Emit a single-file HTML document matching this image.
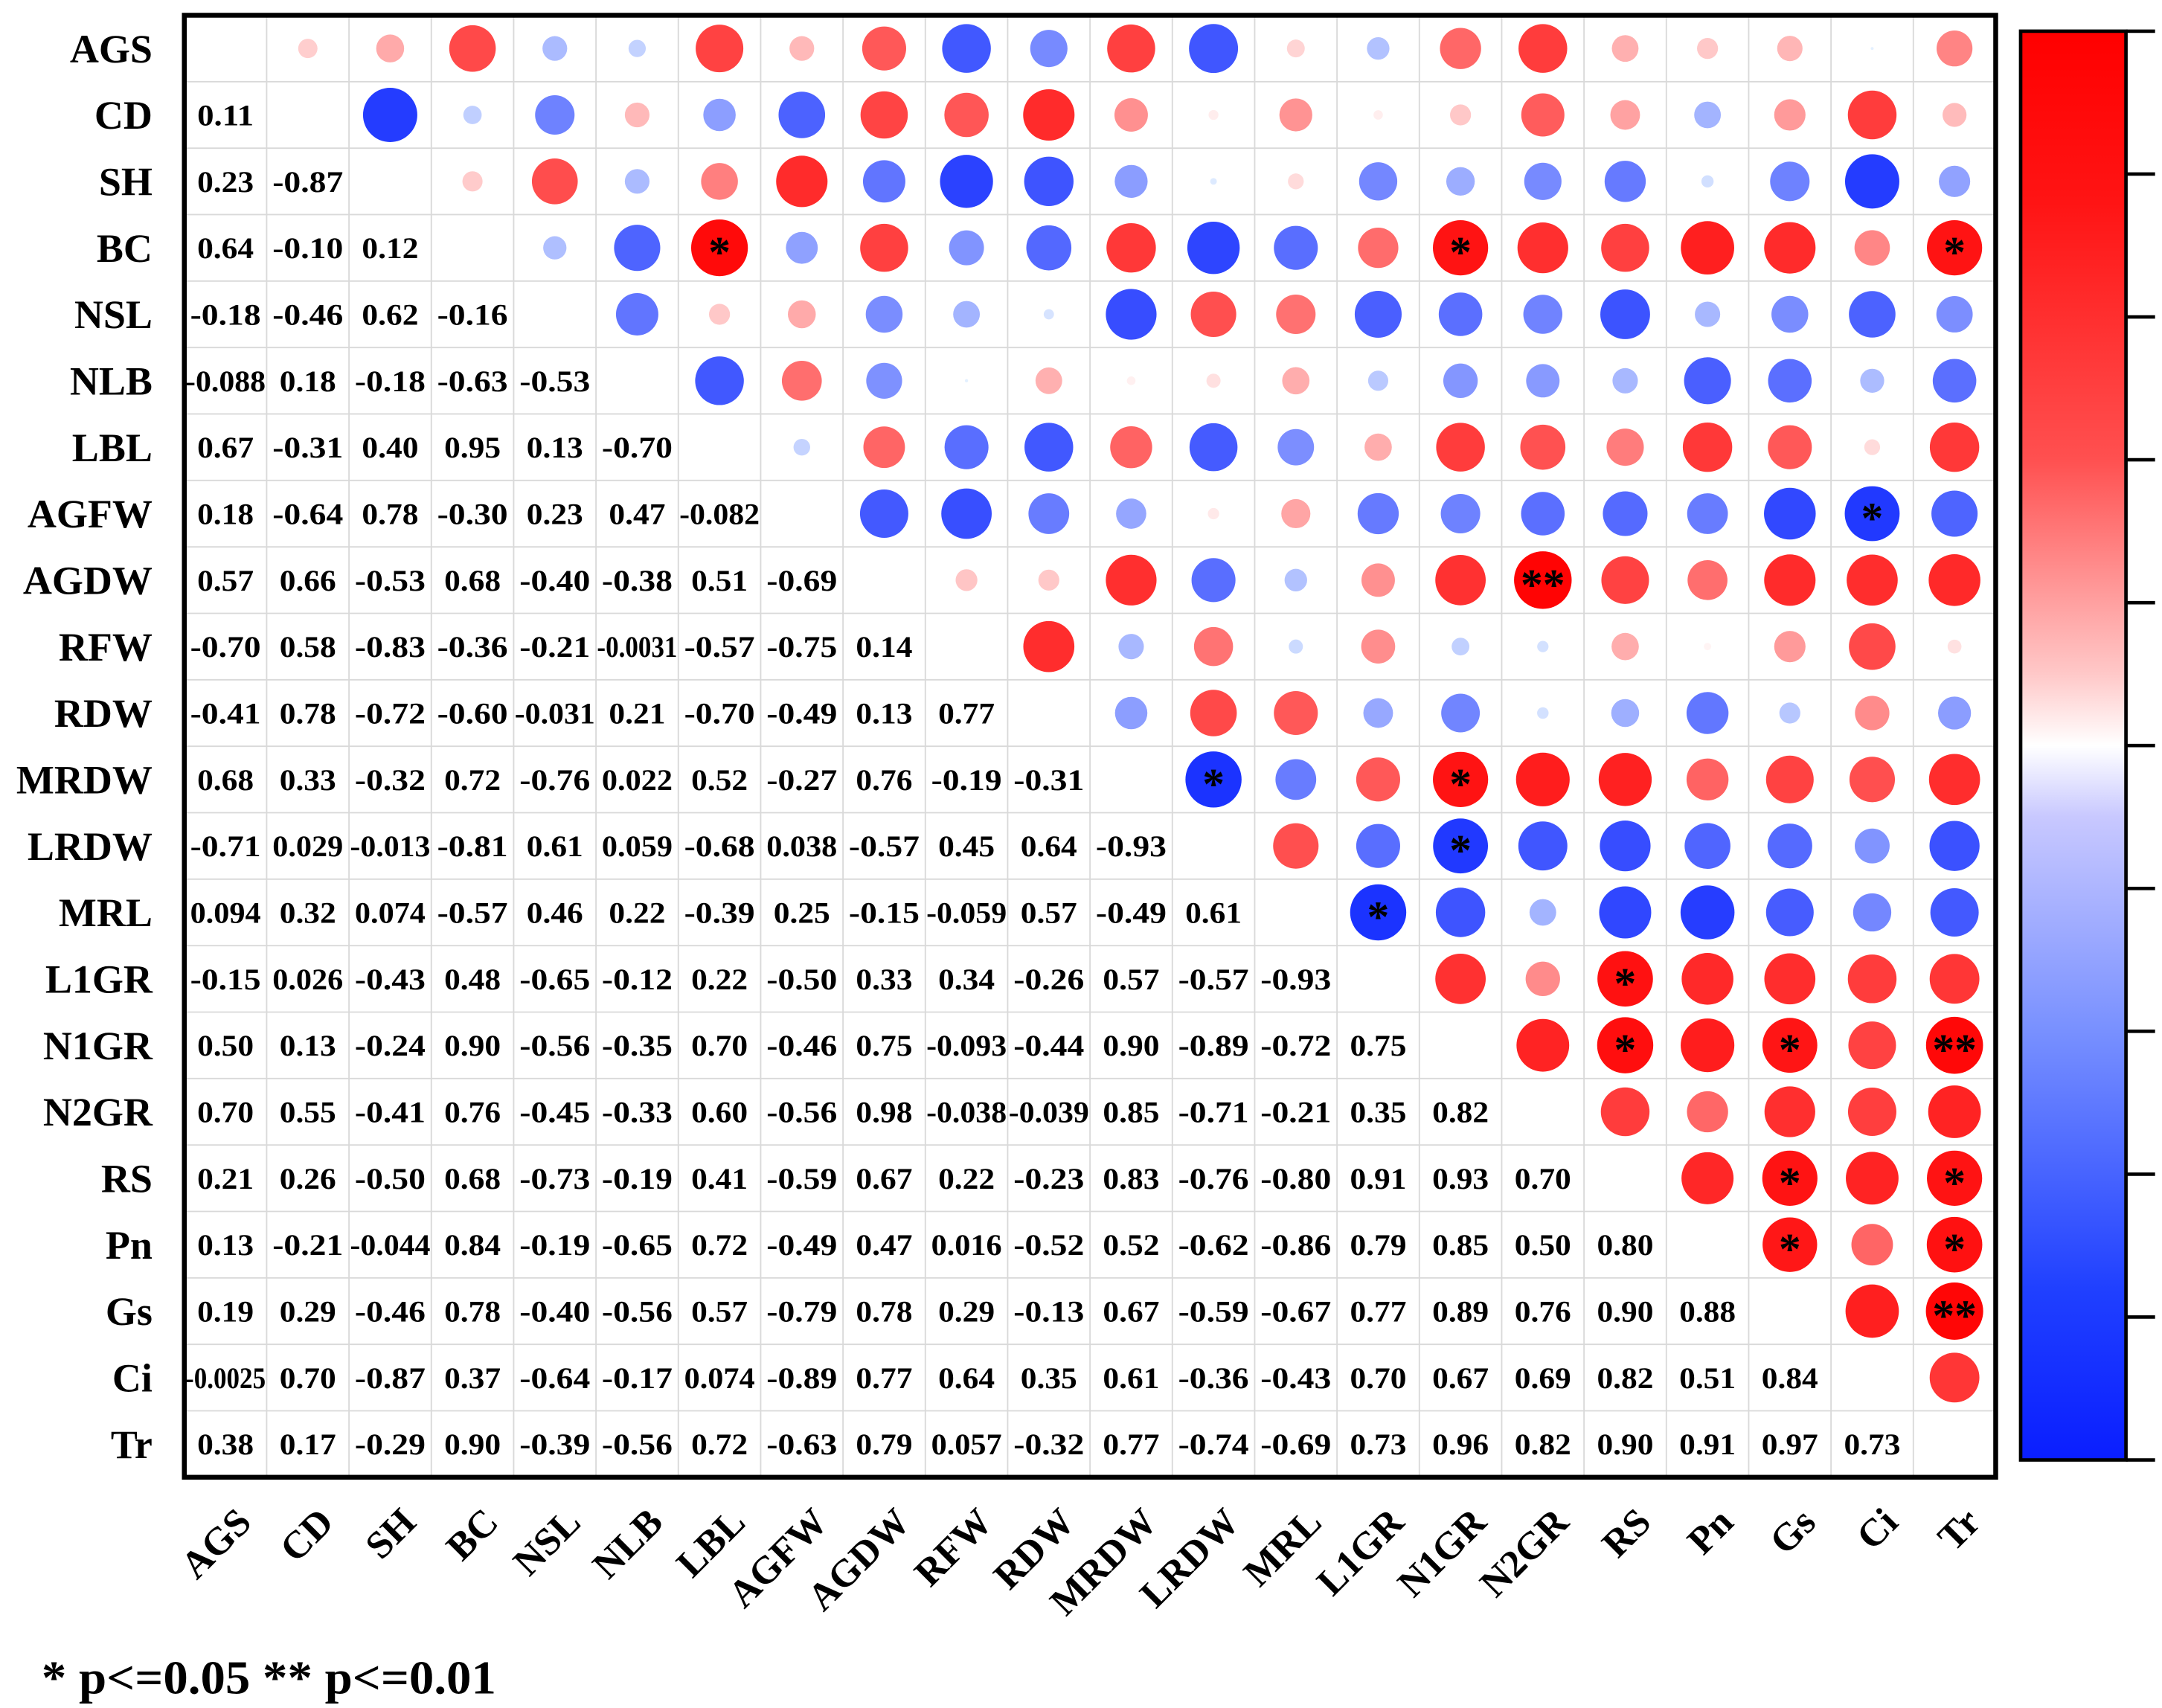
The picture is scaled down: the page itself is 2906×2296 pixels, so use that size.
<!DOCTYPE html>
<html><head><meta charset="utf-8"><style>
html,body{margin:0;padding:0;background:#fff;}
svg{display:block;}
text{font-family:"Liberation Serif","Times New Roman",Times,serif;font-weight:bold;fill:#000;}
</style></head><body>
<svg id="chart" width="2906" height="2296" viewBox="0 0 1560 1232.5" preserveAspectRatio="none" xmlns="http://www.w3.org/2000/svg">
<defs>
<linearGradient id="cbgrad" x1="0" y1="0" x2="0" y2="1">
<stop offset="0" stop-color="#ff0000"/>
<stop offset="0.12" stop-color="#ff1414"/>
<stop offset="0.3" stop-color="#ff5050"/>
<stop offset="0.45" stop-color="#ffc8c8"/>
<stop offset="0.5" stop-color="#ffffff"/>
<stop offset="0.55" stop-color="#c8c8ff"/>
<stop offset="0.7" stop-color="#7890ff"/>
<stop offset="0.88" stop-color="#2040ff"/>
<stop offset="1" stop-color="#0a1eff"/>
</linearGradient>
</defs>
<g id="grid"></g>
<g id="cells"></g>
<rect x="133" y="11" width="1307" height="1055" fill="none" stroke="#000" stroke-width="3.5"/>
<g id="ylabels"></g>
<g id="xlabels"></g>
<rect x="1458" y="22.5" width="76" height="1031" fill="url(#cbgrad)" stroke="#000" stroke-width="2.5"/>
<g id="cbticks"></g>
<text x="30" y="1222" font-size="34" textLength="328" lengthAdjust="spacingAndGlyphs">* p&lt;=0.05  ** p&lt;=0.01</text>
</svg>
<script>
const labels = ["AGS","CD","SH","BC","NSL","NLB","LBL","AGFW","AGDW","RFW","RDW","MRDW","LRDW","MRL","L1GR","N1GR","N2GR","RS","Pn","Gs","Ci","Tr"];
const valueText = [
[],
["0.11"],
["0.23","-0.87"],
["0.64","-0.10","0.12"],
["-0.18","-0.46","0.62","-0.16"],
["-0.088","0.18","-0.18","-0.63","-0.53"],
["0.67","-0.31","0.40","0.95","0.13","-0.70"],
["0.18","-0.64","0.78","-0.30","0.23","0.47","-0.082"],
["0.57","0.66","-0.53","0.68","-0.40","-0.38","0.51","-0.69"],
["-0.70","0.58","-0.83","-0.36","-0.21","-0.0031","-0.57","-0.75","0.14"],
["-0.41","0.78","-0.72","-0.60","-0.031","0.21","-0.70","-0.49","0.13","0.77"],
["0.68","0.33","-0.32","0.72","-0.76","0.022","0.52","-0.27","0.76","-0.19","-0.31"],
["-0.71","0.029","-0.013","-0.81","0.61","0.059","-0.68","0.038","-0.57","0.45","0.64","-0.93"],
["0.094","0.32","0.074","-0.57","0.46","0.22","-0.39","0.25","-0.15","-0.059","0.57","-0.49","0.61"],
["-0.15","0.026","-0.43","0.48","-0.65","-0.12","0.22","-0.50","0.33","0.34","-0.26","0.57","-0.57","-0.93"],
["0.50","0.13","-0.24","0.90","-0.56","-0.35","0.70","-0.46","0.75","-0.093","-0.44","0.90","-0.89","-0.72","0.75"],
["0.70","0.55","-0.41","0.76","-0.45","-0.33","0.60","-0.56","0.98","-0.038","-0.039","0.85","-0.71","-0.21","0.35","0.82"],
["0.21","0.26","-0.50","0.68","-0.73","-0.19","0.41","-0.59","0.67","0.22","-0.23","0.83","-0.76","-0.80","0.91","0.93","0.70"],
["0.13","-0.21","-0.044","0.84","-0.19","-0.65","0.72","-0.49","0.47","0.016","-0.52","0.52","-0.62","-0.86","0.79","0.85","0.50","0.80"],
["0.19","0.29","-0.46","0.78","-0.40","-0.56","0.57","-0.79","0.78","0.29","-0.13","0.67","-0.59","-0.67","0.77","0.89","0.76","0.90","0.88"],
["-0.0025","0.70","-0.87","0.37","-0.64","-0.17","0.074","-0.89","0.77","0.64","0.35","0.61","-0.36","-0.43","0.70","0.67","0.69","0.82","0.51","0.84"],
["0.38","0.17","-0.29","0.90","-0.39","-0.56","0.72","-0.63","0.79","0.057","-0.32","0.77","-0.74","-0.69","0.73","0.96","0.82","0.90","0.91","0.97","0.73"]
];
const sigRows = [3,3,3,7,8,11,11,12,13,14,15,15,15,17,17,18,18,19];
const sigCols = [6,15,21,20,16,12,15,15,14,17,17,19,21,19,21,19,21,21];
const sigMarks = ["*","*","*","*","**","*","*","*","*","*","*","*","**","*","*","*","*","**"];
const cbTickVals = [1,0.8,0.6,0.4,0.2,0,-0.2,-0.4,-0.6,-0.8,-1];

const NS="http://www.w3.org/2000/svg";
const x0=133,y0=11,cw=1307/22,ch=1055/22;
const cx=j=>x0+cw*(j+0.5), cy=i=>y0+ch*(i+0.5);
function mk(tag,attrs,parent){const e=document.createElementNS(NS,tag);for(const k in attrs)e.setAttribute(k,attrs[k]);parent.appendChild(e);return e;}
function color(r){const a=Math.min(1,Math.abs(r));const t=Math.pow(a,0.75);
 if(r>=0){const g=Math.round(255*(1-t));return `rgb(255,${g},${g})`;}
 const v=Math.round(255*(1-t));return `rgb(${Math.round(v*0.9+15*t)},${Math.round(v*0.95+40*t)},255)`;}
const grid=document.getElementById('grid');
for(let k=1;k<22;k++){
 let l=mk('line',{x1:x0+cw*k,y1:y0,x2:x0+cw*k,y2:y0+1055,stroke:'#d9d9d9','stroke-width':1},grid);
 
 
 l=mk('line',{x1:x0,y1:y0+ch*k,x2:x0+1307,y2:y0+ch*k,stroke:'#d9d9d9','stroke-width':1},grid);
 
 
}
const cells=document.getElementById('cells');
for(let i=0;i<22;i++){
 for(let j=0;j<i;j++){
  const s=valueText[i][j];
  const t=mk('text',{x:cx(j),y:cy(i)+7.5,'font-size':21.5,'text-anchor':'middle',textLength:(s.length>5?58:s.length*10.2),lengthAdjust:'spacingAndGlyphs'},cells);
  t.textContent=s;
  
  
  const r=parseFloat(s);
  const c=mk('circle',{cx:cx(i),cy:cy(j),r:21*Math.sqrt(Math.abs(r)),fill:color(r)},cells);
  
  
 }
}
for(let k=0;k<sigRows.length;k++){
 const t=mk('text',{x:cx(sigCols[k]),y:cy(sigRows[k])+14,'font-size':32,'text-anchor':'middle','font-weight':'normal'},cells);
 t.textContent=sigMarks[k];
 
 
}
const yl=document.getElementById('ylabels'), xl=document.getElementById('xlabels');
labels.forEach((lab,i)=>{
 const t=mk('text',{x:110,y:cy(i)+10,'font-size':29,'text-anchor':'end'},yl);
 t.textContent=lab;
 
 
 const u=mk('text',{x:0,y:0,'font-size':28,'text-anchor':'end',transform:`translate(${cx(i)+20},${1100}) rotate(-45)`},xl);
 u.textContent=lab;
 
 
});
const cbt=document.getElementById('cbticks');
cbTickVals.forEach(v=>{
 const y=22.5+(1-v)/2*1031;
 const l=mk('line',{x1:1534,y1:y,x2:1555,y2:y,stroke:'#000','stroke-width':2.5},cbt);
 
 
});
</script>
</body></html>
